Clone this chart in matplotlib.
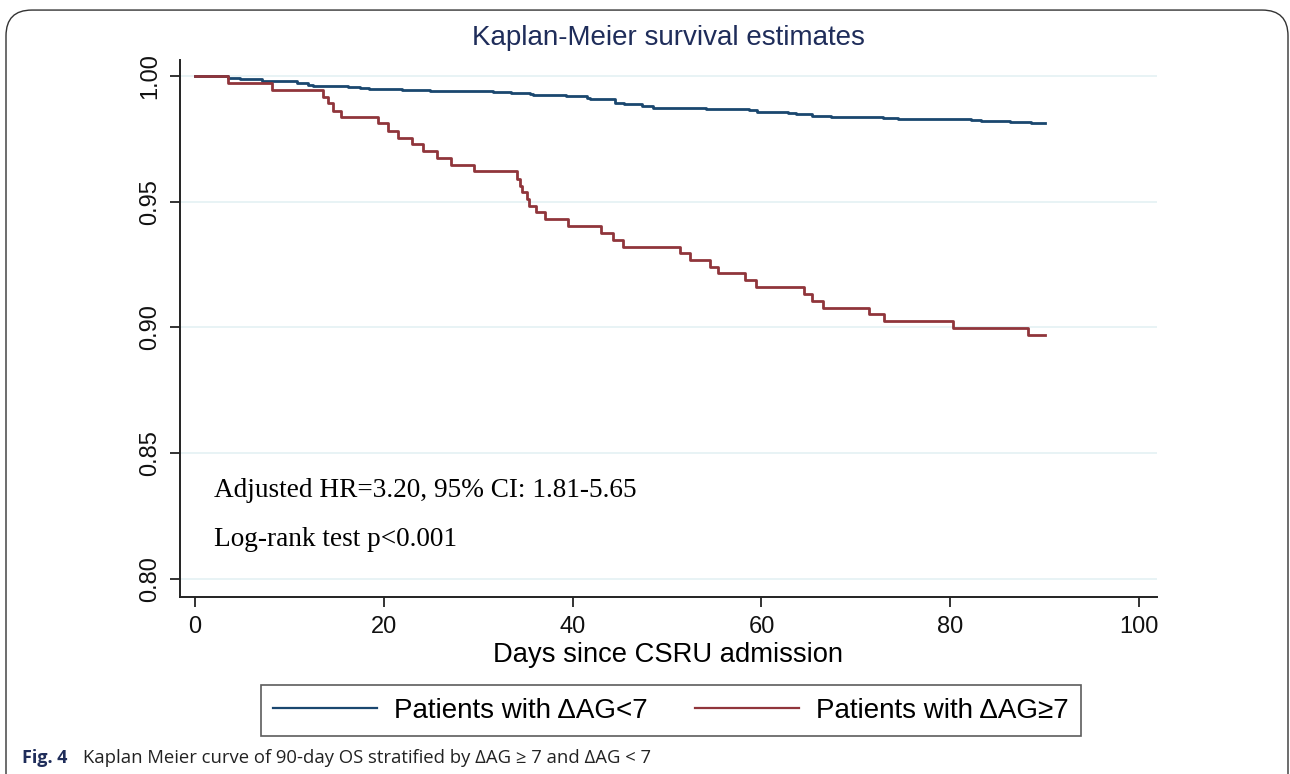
import matplotlib
matplotlib.use("Agg")
import matplotlib.pyplot as plt
from matplotlib.lines import Line2D
from matplotlib.patches import FancyBboxPatch

# --- data (day of event, survival after that event) ---
low_days = [0, 3.5, 4.8, 7.1, 10.8, 12.0, 12.5, 16.2, 17.5, 18.4, 21.9, 24.9,
            31.6, 33.5, 35.5, 35.8, 39.3, 41.5, 41.8, 44.5, 45.4, 47.3, 48.5,
            54.1, 58.7, 59.5, 62.8, 63.7, 65.4, 67.4, 72.9, 74.5, 82.2, 83.3,
            86.3, 88.5, 90.0]
low_surv = [1.0, 0.9993, 0.9987, 0.9979, 0.9971, 0.9965, 0.9961, 0.9957,
            0.9953, 0.9948, 0.9944, 0.9941, 0.9936, 0.9932, 0.9927, 0.9923,
            0.9919, 0.9913, 0.9907, 0.9891, 0.9887, 0.9879, 0.9874, 0.9870,
            0.9865, 0.9858, 0.9854, 0.9848, 0.9842, 0.9838, 0.9834, 0.9830,
            0.9825, 0.9820, 0.9816, 0.9812, 0.9812]

high_days = [0, 3.5, 8.2, 13.6, 14.1, 14.6, 15.5, 19.4, 20.4, 21.5, 23.0, 24.1,
             25.6, 27.1, 29.5, 34.1, 34.4, 34.6, 35.2, 35.4, 36.1, 37.1, 39.5,
             43.0, 44.3, 45.3, 51.4, 52.4, 54.5, 55.4, 58.3, 59.4, 64.5, 65.4,
             66.5, 71.4, 73.0, 80.3, 88.2, 90.0]
high_surv = [1.0, 0.9971, 0.9943, 0.9918, 0.9891, 0.9862, 0.9836, 0.9812,
             0.9783, 0.9755, 0.9728, 0.9703, 0.9674, 0.9646, 0.9622, 0.9590,
             0.9564, 0.9538, 0.9511, 0.9484, 0.9458, 0.9430, 0.9404, 0.9377,
             0.9348, 0.9321, 0.9295, 0.9268, 0.9241, 0.9215, 0.9189, 0.9160,
             0.9133, 0.9105, 0.9079, 0.9053, 0.9026, 0.8997, 0.8970, 0.8970]

x_ticks = [0, 20, 40, 60, 80, 100]
y_ticks = [0.80, 0.85, 0.90, 0.95, 1.00]
labels = ["Patients with \u0394AG<7", "Patients with \u0394AG\u22657"]

BLUE = "#1a476f"
RED = "#90353b"
NAVY = "#1f2d5a"
GRID = "#e4f1f4"

plt.rcParams["font.family"] = ["Liberation Sans", "DejaVu Sans"]

fig = plt.figure(figsize=(12.9, 7.74), dpi=100)
ax = fig.add_axes([0.1395, 0.2287, 0.7574, 0.6938])

for y in y_ticks:
    ax.axhline(y, color=GRID, lw=1.2, zorder=0)

ax.step(low_days, low_surv, where="post", color=BLUE, lw=2.0)
ax.step(high_days, high_surv, where="post", color=RED, lw=2.0)

ax.set_xlim(-1.6, 101.9)
ax.set_ylim(0.7928, 1.0064)
ax.set_xticks(x_ticks)
ax.set_yticks(y_ticks)
ax.set_yticklabels([f"{v:.2f}" for v in y_ticks], rotation=90, va="center")
ax.tick_params(direction="out", length=7.5, width=1.2, labelsize=17,
               colors="#111111")
ax.tick_params(axis="y", pad=6)
ax.tick_params(axis="x", pad=6)
for s in ["top", "right"]:
    ax.spines[s].set_visible(False)
for s in ["left", "bottom"]:
    ax.spines[s].set_linewidth(1.4)
    ax.spines[s].set_color("#222222")

ax.set_xlabel("Days since CSRU admission", fontsize=19.7, labelpad=3)
fig.text(0.518, 0.951, "Kaplan-Meier survival estimates", ha="center",
         va="center", fontsize=20, color=NAVY)

ax.text(2.0, 0.835, "Adjusted HR=3.20, 95% CI: 1.81-5.65",
        family="Liberation Serif", fontsize=19.6, va="center")
ax.text(2.0, 0.8155, "Log-rank test p<0.001",
        family="Liberation Serif", fontsize=19.6, va="center")

handles = [Line2D([], [], color=BLUE, lw=1.6), Line2D([], [], color=RED, lw=1.6)]
leg = fig.legend(handles, labels, loc="center", bbox_to_anchor=(0.520, 0.0814),
                 ncol=2, fontsize=20, frameon=True, fancybox=False,
                 handlelength=3.75, handletextpad=0.6, columnspacing=1.7,
                 borderpad=0.45, borderaxespad=0, edgecolor="#333333")
leg.get_frame().set_linewidth(1.2)

fig.text(0.017, 0.021, "Fig. 4", fontsize=13, fontweight="bold",
         family="Open Sans", color="#1f2d5a", va="center")
fig.text(0.064, 0.021,
         "Kaplan Meier curve of 90-day OS stratified by \u0394AG \u2265 7 and \u0394AG < 7",
         fontsize=13.3, family="Open Sans", color="#222222", va="center")

frame = FancyBboxPatch((6 / 1290, -0.05), 1282 / 1290, 1.037,
                       boxstyle="round,pad=0,rounding_size=0.02",
                       transform=fig.transFigure, fill=False,
                       edgecolor="#333333", lw=1.0, mutation_aspect=1290 / 774)
fig.patches.append(frame)

fig.savefig("out.png", dpi=100)
